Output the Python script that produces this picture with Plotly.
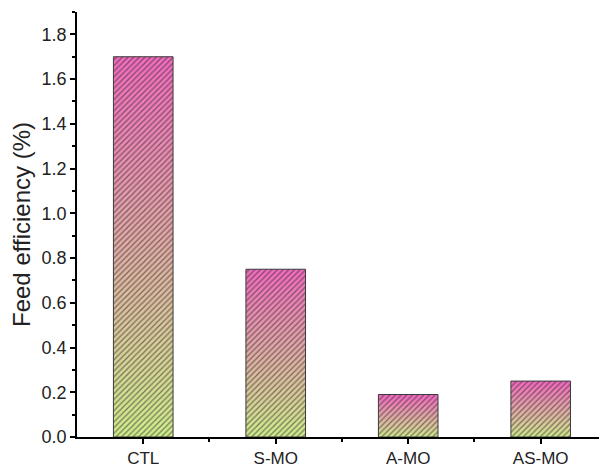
import plotly.graph_objects as go

# Feed efficiency by treatment group
categories = ["CTL", "S-MO", "A-MO", "AS-MO"]
feed_efficiency = [1.70, 0.75, 0.19, 0.25]

BAR_WIDTH = 0.45
GREEN = "#cdf08b"
PINK = "#f16cbe"


def bar_outline(i, v):
    """Rectangle corners of bar i with height v, in data units."""
    x0, x1 = i - BAR_WIDTH / 2, i + BAR_WIDTH / 2
    return [x0, x1, x1, x0, x0], [0, 0, v, v, 0]


fig = go.Figure()

# Gradient body of each bar (green at the base, pink at the top)
for i, v in enumerate(feed_efficiency):
    xs, ys = bar_outline(i, v)
    fig.add_trace(go.Scatter(
        x=xs, y=ys,
        mode="lines",
        line=dict(width=0),
        fill="toself",
        fillgradient=dict(type="vertical", start=0, stop=v,
                          colorscale=[[0, GREEN], [1, PINK]]),
        hoverinfo="skip",
        showlegend=False,
    ))

# Diagonal hatching and dark outline drawn over the gradients
hx, hy = [], []
for i, v in enumerate(feed_efficiency):
    xs, ys = bar_outline(i, v)
    hx += xs + [None]
    hy += ys + [None]
fig.add_trace(go.Scatter(
    x=hx, y=hy,
    mode="lines",
    line=dict(color="#3c3c3c", width=1),
    fill="toself",
    fillcolor="rgba(0,0,0,0)",
    fillpattern=dict(shape="/", size=4, solidity=0.3,
                     fgcolor="rgba(60,40,50,0.6)",
                     bgcolor="rgba(0,0,0,0)", fillmode="replace"),
    hoverinfo="skip",
    showlegend=False,
))

fig.update_layout(
    width=599, height=468,
    margin=dict(l=77, r=0, t=12, b=29),
    paper_bgcolor="white", plot_bgcolor="white",
    font=dict(family="Liberation Sans, Arial, sans-serif", size=18, color="#222"),
    xaxis=dict(
        range=[-0.5, 3.44],
        tickmode="array", tickvals=list(range(len(categories))), ticktext=categories,
        showline=True, linecolor="black", linewidth=1.5,
        ticks="outside", ticklen=5, tickwidth=1.5, tickcolor="black",
        minor=dict(tickmode="array", tickvals=[0.5, 1.5, 2.5],
                   ticks="outside", ticklen=3, tickwidth=1.5, tickcolor="black"),
        showgrid=False, zeroline=False,
        tickfont=dict(size=17),
    ),
    yaxis=dict(
        range=[0, 1.9],
        tick0=0, dtick=0.2, tickformat=".1f",
        showline=True, linecolor="black", linewidth=1.5,
        ticks="outside", ticklen=5, tickwidth=1.5, tickcolor="black",
        minor=dict(dtick=0.1, ticks="outside", ticklen=3, tickwidth=1.5, tickcolor="black"),
        showgrid=False, zeroline=False,
        title=dict(text="Feed efficiency (%)", font=dict(size=24), standoff=4),
        tickfont=dict(size=18),
    ),
)

fig.write_html("out.html")
